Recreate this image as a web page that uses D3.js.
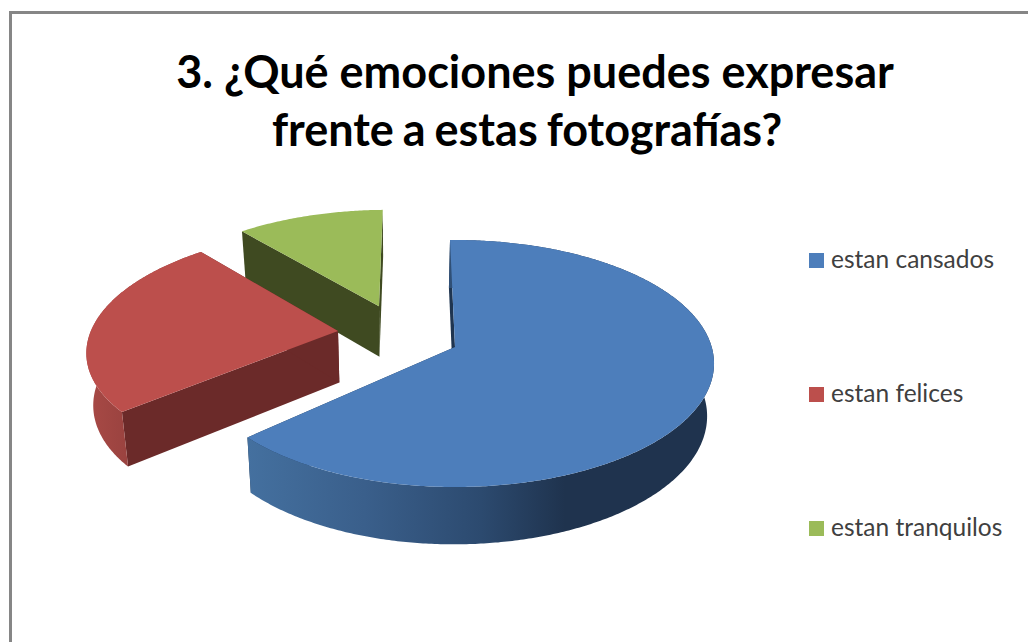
<!DOCTYPE html>
<html><head><meta charset="utf-8">
<script src="https://cdn.jsdelivr.net/npm/d3@7"></script>
<style>html,body{margin:0;padding:0;background:#fff}svg{display:block}text{font-family:Lato,"Noto Sans",sans-serif}</style>
</head><body><div id="c"></div>
<script>
const titleLines = ["3. ¿Qué emociones puedes expresar", "frente a estas fotografías?"];
const categories = ["estan cansados", "estan felices", "estan tranquilos"];
const values = [63.5, 25.5, 11];
const explodeU = [0, -0.464, -0.31];
const explodeV = [0, -0.134, -0.352];
const sliceRadius = [1, 0.98, 0.98];
const startTrim = [0, 0.04, 0];
const topColors = ["#4d7ebb", "#bc4f4c", "#9bbb59"];
const wallColors = ["#1f3550", "#6b2a29", "#3f4a21"];

const W = 1028, H = 642;
const svg = d3.select("#c").append("svg").attr("width", W).attr("height", H);
svg.append("rect").attr("width", W).attr("height", H).attr("fill", "#fff");
svg.append("path").attr("d", `M10.5,${H} V12.5 H${W}`).attr("fill", "none").attr("stroke", "#868686").attr("stroke-width", 3);

const title = svg.append("g").attr("font-weight", 700).attr("font-size", 45).attr("fill", "#000").attr("text-anchor", "middle");
title.selectAll("text").data(titleLines).join("text")
  .attr("x", (d, i) => i ? 527 : 535).attr("y", (d, i) => i ? 146 : 88)
  .attr("word-spacing", (d, i) => i ? -2 : 0).text(d => d);

// perspective plane projection
const cx = 455, cy = 347, A = 121.3, C = 256.7, k = -0.1336;
function proj(u, v) { const w = 1 + k * v; return [cx + C * u / w, cy + A * v / w]; }
function drop(p) {
  const h = 51 + 0.038 * (p[1] - 320);
  return [p[0] + (400 - p[0]) * 0.022, p[1] + h];
}
const line = d3.line();
const rot = -0.022;
const arcs = d3.pie().sort(null).startAngle(rot).endAngle(2 * Math.PI + rot)(values);

const defs = svg.append("defs");
const gradBlue = defs.append("linearGradient").attr("id", "rim0").attr("gradientUnits", "userSpaceOnUse")
  .attr("x1", 248).attr("x2", 714).attr("y1", 0).attr("y2", 0);
[[0, "#44709f"], [0.25, "#3a5f8b"], [0.5, "#2c4a6f"], [0.68, "#1f334e"], [1, "#1f334e"]]
  .forEach(s => gradBlue.append("stop").attr("offset", s[0]).attr("stop-color", s[1]));
const gradRed = defs.append("linearGradient").attr("id", "rim1").attr("gradientUnits", "userSpaceOnUse")
  .attr("x1", 85).attr("x2", 130).attr("y1", 0).attr("y2", 0);
[[0, "#a94a46"], [1, "#99423f"]].forEach(s => gradRed.append("stop").attr("offset", s[0]).attr("stop-color", s[1]));

const pie = svg.append("g");
// paint back to front: green, red, blue
[2, 1, 0].forEach(i => {
  const a = arcs[i], ou = explodeU[i], ov = explodeV[i], r = sliceRadius[i];
  const a0 = a.startAngle + startTrim[i];
  const n = Math.ceil((a.endAngle - a0) / 0.01);
  const rim = d3.range(n + 1).map(j => {
    const t = a0 + (a.endAngle - a0) * j / n;
    return proj(ou + r * Math.sin(t), ov - r * Math.cos(t));
  });
  const apex = proj(ou, ov);
  const rimB = rim.map(drop), apexB = drop(apex);
  const g = pie.append("g");
  const first = rim[0], last = rim[rim.length - 1];
  [[apex, first, drop(first), apexB], [apex, last, drop(last), apexB]].forEach(q => {
    g.append("path").attr("d", line(q) + "Z").attr("fill", wallColors[i]);
  });
  if (i < 2) g.append("path").attr("d", line(rim.concat(rimB.slice().reverse())) + "Z")
    .attr("fill", `url(#rim${i})`);
  g.append("path").attr("d", line([apex].concat(rim)) + "Z").attr("fill", topColors[i]);
});

const legY = [260, 394, 528];
const leg = svg.append("g").selectAll("g").data(categories).join("g")
  .attr("transform", (d, i) => `translate(809,${legY[i]})`);
leg.append("rect").attr("x", 0).attr("y", -7).attr("width", 15).attr("height", 15).attr("fill", (d, i) => topColors[i]);
leg.append("text").attr("x", 22).attr("y", 8).attr("font-size", 24.5).attr("fill", "#404040").text(d => d);
</script></body></html>
